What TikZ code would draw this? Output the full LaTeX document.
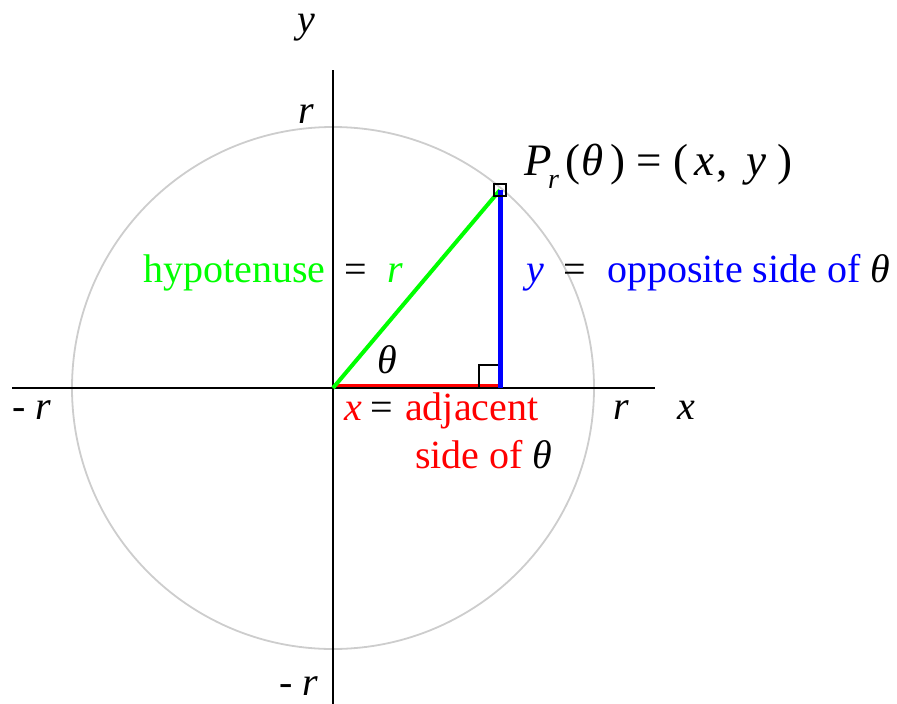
\documentclass[tikz,border=0pt]{standalone}
\usepackage{fontspec}
\setmainfont{Liberation Serif}
\definecolor{lime}{RGB}{0,255,0}
\definecolor{pblue}{RGB}{0,0,255}
\definecolor{pred}{RGB}{255,0,0}
\definecolor{circgray}{RGB}{205,205,205}
\begin{document}
\begin{tikzpicture}[x=1pt,y=-1pt,
  lbl/.style={inner sep=0pt,anchor=base west,font=\fontsize{40}{44}\selectfont},
  plbl/.style={inner sep=0pt,anchor=base west,font=\fontsize{45}{50}\selectfont},
  slbl/.style={inner sep=0pt,anchor=base west,font=\fontsize{28}{32}\selectfont},
  axisline/.style={line width=1.6pt,black},
  sq/.style={line width=1.6pt,black}]
\useasboundingbox (0,0) rectangle (897,704);
\coordinate (O) at (333,388);
\coordinate (P) at (500,190);
\coordinate (F) at (500,388);
\coordinate (Ol) at (333,386);
\coordinate (Fl) at (500,386);
\coordinate (XL) at (12,388);
\coordinate (XR) at (655,388);
\coordinate (YT) at (333,70);
\coordinate (YB) at (333,704);
% circle
\draw[circgray,line width=1.8pt] (O) circle (261);
% red adjacent side
\draw[pred,line width=5pt] (Ol) -- (Fl);
% axes
\draw[axisline] (XL) -- (XR);
\draw[axisline] (YT) -- (YB);
% right angle mark
\coordinate (R1) at (479,388);
\coordinate (R2) at (479,365);
\coordinate (R3) at (500,365);
\draw[sq] (R1) -- (R2) -- (R3);
% hypotenuse and opposite
\draw[lime,line width=4pt] (O) -- (P);
\draw[pblue,line width=5pt] (F) -- (P);
% point square
\draw[sq] ([shift={(-6,-6)}]P) rectangle ([shift={(6,6)}]P);
% axis labels
\node[lbl] (ytop) at (297,32) {\textit{y}};
\node[lbl] (rtop) at (298,123) {\textit{r}};
\node[lbl] (rleft) at (12,419) {- \textit{r}};
\node[lbl] (rright) at (613,419) {\textit{r}};
\node[lbl] (xlab) at (677,419) {\textit{x}};
\node[lbl] (rbot) at (279,695) {- \textit{r}};
% angle
\node[lbl] (theta) at (377,373) {\textit{θ}};
% hypotenuse label
\node[lbl,text=lime] (hyp) at (143,282) {hypotenuse};
\node[lbl] (eq1) at (344,282) {=};
\node[lbl,text=lime] (r1) at (387,282) {\textit{r}};
% opposite label
\node[lbl,text=pblue] (y1) at (526,282) {\textit{y}};
\node[lbl] (eq2) at (563,282) {=};
\node[lbl,text=pblue] (opp) at (607,282) {opposite side of \textcolor{black}{\textit{θ}}};
% adjacent label
\node[lbl,text=pred] (x1) at (344,420) {\textit{x}};
\node[lbl] (eq3) at (370,420) {=};
\node[lbl,text=pred] (adj) at (405,420) {adjacent};
\node[lbl,text=pred] (adj2) at (415,468) {side of \textcolor{black}{\textit{θ}}};
% point label
\node[plbl] (pP) at (524,175) {\textit{P}};
\node[slbl] (pr) at (548,188) {\textit{r}};
\node[plbl] (pl1) at (565,175) {(};
\node[plbl] (pth) at (581,175) {\textit{θ}};
\node[plbl] (pr1) at (610,175) {)};
\node[plbl] (peq) at (636,175) {=};
\node[plbl] (pl2) at (673,175) {(};
\node[plbl] (px) at (694,175) {\textit{x}};
\node[plbl] (pc) at (716,175) {,};
\node[plbl] (py) at (746,175) {\textit{y}};
\node[plbl] (pr2) at (777,175) {)};
\end{tikzpicture}
\end{document}
